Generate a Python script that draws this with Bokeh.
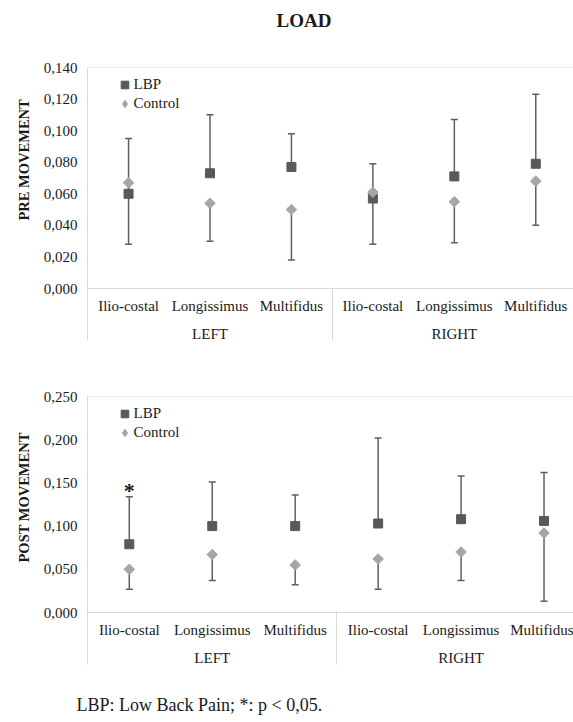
import numpy as np
from bokeh.plotting import figure
from bokeh.models import (ColumnDataSource, Range1d, FixedTicker, LinearAxis, Span,
                          Whisker, TeeHead, Legend, LegendItem, CustomJSTickFormatter, Title)
from bokeh.layouts import column
from bokeh.embed import file_html
from bokeh.resources import INLINE

# ---------------- data ----------------
muscles = ["Ilio-costal", "Longissimus", "Multifidus", "Ilio-costal", "Longissimus", "Multifidus"]
sides = ["LEFT", "RIGHT"]

pre_lbp = [0.060, 0.073, 0.077, 0.057, 0.071, 0.079]
pre_lbp_upper = [0.095, 0.110, 0.098, 0.079, 0.107, 0.123]
pre_control = [0.067, 0.054, 0.050, 0.061, 0.055, 0.068]
pre_control_lower = [0.028, 0.030, 0.018, 0.028, 0.029, 0.040]
pre_ticks = [0.0, 0.02, 0.04, 0.06, 0.08, 0.10, 0.12, 0.14]

post_lbp = [0.079, 0.100, 0.100, 0.103, 0.108, 0.106]
post_lbp_upper = [0.134, 0.151, 0.136, 0.202, 0.158, 0.162]
post_control = [0.050, 0.067, 0.055, 0.062, 0.070, 0.092]
post_control_lower = [0.027, 0.037, 0.032, 0.027, 0.037, 0.013]
post_sig = ["*", "", "", "", "", ""]
post_ticks = [0.0, 0.05, 0.10, 0.15, 0.20, 0.25]

# ---------------- style ----------------
FONT = "Liberation Serif"
TXT = "#1a1a1a"
GRID = "#d9d9d9"
BAR = "#5f5f5f"
LBP_C = "#595959"
CTL_C = "#a6a6a6"
FIG_W = 573
LEFT_B = 87
SEP_LEN = 52


def spacer(gap):
    return Title(text=" ", text_font_size="1px", standoff=gap)


def panel(ylabel, ylabel_shift, lbp, lbp_hi, ctl, ctl_lo, y_ticks, spacing, h, bt, bb,
          frame_h, sig=None):
    n = len(muscles)
    x = np.arange(n) + 0.5
    src = ColumnDataSource(dict(x=x, lbp=lbp, lbp_hi=lbp_hi, ctl=ctl, ctl_lo=ctl_lo,
                                sig=sig if sig else [""] * n))
    x_end = (FIG_W - LEFT_B) / spacing
    p = figure(width=FIG_W, height=h, output_backend="svg", toolbar_location=None,
               x_range=Range1d(-0.004, x_end), y_range=Range1d(y_ticks[0], y_ticks[-1]),
               x_axis_location=None, min_border_left=LEFT_B, min_border_right=0,
               min_border_top=bt, min_border_bottom=bb)
    p.title.visible = False
    p.outline_line_color = None
    p.xgrid.visible = False
    p.ygrid.visible = False
    p.background_fill_color = "white"
    p.border_fill_color = "white"

    ya = p.yaxis[0]
    ya.ticker = FixedTicker(ticks=y_ticks)
    ya.formatter = CustomJSTickFormatter(code="return tick.toFixed(3).replace('.', ',');")
    ya.axis_line_color = GRID
    ya.major_tick_line_color = None
    ya.minor_tick_line_color = None
    ya.major_tick_out = 0
    ya.major_tick_in = 0
    ya.major_label_standoff = 10
    ya.major_label_text_font = FONT
    ya.major_label_text_font_size = "15px"
    ya.major_label_text_color = TXT

    p.add_layout(Title(text=ylabel, align="left", offset=ylabel_shift, standoff=17,
                       text_font=FONT, text_font_size="14.5px", text_font_style="bold",
                       text_color=TXT), "left")

    p.add_layout(Span(location=y_ticks[-1], dimension="width", line_color=GRID, line_width=1))

    per = n // len(sides)
    seps = [float(v) for v in np.arange(0, n + 1, per)]
    ax1 = LinearAxis(ticker=FixedTicker(ticks=list(x), minor_ticks=seps),
                     major_label_overrides={float(v): m for v, m in zip(x, muscles)},
                     axis_line_color=GRID, major_tick_in=0, major_tick_out=0,
                     major_tick_line_color=None, minor_tick_in=0, minor_tick_out=SEP_LEN,
                     minor_tick_line_color=GRID, major_label_standoff=9 - SEP_LEN,
                     major_label_text_font=FONT, major_label_text_font_size="15px",
                     major_label_text_color=TXT)
    gx = np.arange(len(sides)) * per + per / 2
    ax2 = LinearAxis(ticker=FixedTicker(ticks=list(gx), minor_ticks=[]),
                     major_label_overrides={float(v): s for v, s in zip(gx, sides)},
                     axis_line_color=None, major_tick_in=0, major_tick_out=0,
                     major_tick_line_color=None, minor_tick_line_color=None,
                     major_label_standoff=9,
                     major_label_text_font=FONT, major_label_text_font_size="15px",
                     major_label_text_color=TXT)
    p.add_layout(ax1, "below")
    p.add_layout(ax2, "below")

    w1 = Whisker(base="x", lower="lbp", upper="lbp_hi", source=src, dimension="height",
                 line_color=BAR, line_width=1.5,
                 upper_head=TeeHead(size=7, line_color=BAR, line_width=1.5), lower_head=None)
    w2 = Whisker(base="x", lower="ctl_lo", upper="ctl", source=src, dimension="height",
                 line_color=BAR, line_width=1.5,
                 lower_head=TeeHead(size=7, line_color=BAR, line_width=1.5), upper_head=None)
    p.add_layout(w1)
    p.add_layout(w2)
    r1 = p.scatter("x", "lbp", source=src, marker="square", size=9, color=LBP_C)
    p.scatter("x", "ctl", source=src, marker="square", angle=np.pi / 4, size=7.5, color=CTL_C)
    # legend key for the Control series (the legend does not rotate markers)
    r2_key = p.scatter(x=[float("nan")], y=[float("nan")], marker="diamond", color=CTL_C)

    if sig:
        p.text("x", "lbp_hi", text="sig", source=src, text_font={"value": FONT},
               text_font_size="22px", text_font_style="bold", text_align="center",
               text_baseline="alphabetic", y_offset=-6, text_color=TXT)

    leg = Legend(items=[LegendItem(label="LBP", renderers=[r1]),
                        LegendItem(label="Control", renderers=[r2_key])],
                 location=(27.5, frame_h - 7.5 - 38), border_line_color=None,
                 background_fill_alpha=0, padding=0, margin=0, spacing=0,
                 glyph_width=19, glyph_height=19, label_height=16, label_standoff=0,
                 label_text_font=FONT, label_text_font_size="15px", label_text_color=TXT)
    p.add_layout(leg)
    return p


p1 = panel("PRE MOVEMENT", 68, pre_lbp, pre_lbp_upper, pre_control, pre_control_lower,
           pre_ticks, 81.5, 350, 67, 62, 221)
p1.add_layout(spacer(34), "above")
p1.add_layout(Title(text="LOAD", align="left", offset=189, standoff=0, vertical_align="bottom",
                    text_font=FONT, text_font_size="19px", text_font_style="bold",
                    text_color=TXT), "above")

p2 = panel("POST MOVEMENT", 50, post_lbp, post_lbp_upper, post_control, post_control_lower,
           post_ticks, 83, 370, 46, 108, 216, sig=post_sig)
p2.add_layout(spacer(21), "below")
p2.add_layout(Title(text="LBP: Low Back Pain; *: p < 0,05.", align="left", offset=-11,
                    standoff=0, text_font=FONT, text_font_size="18px",
                    text_font_style="normal", text_color=TXT), "below")

layout = column(p1, p2)
open("out.html", "w").write(file_html(layout, INLINE))
